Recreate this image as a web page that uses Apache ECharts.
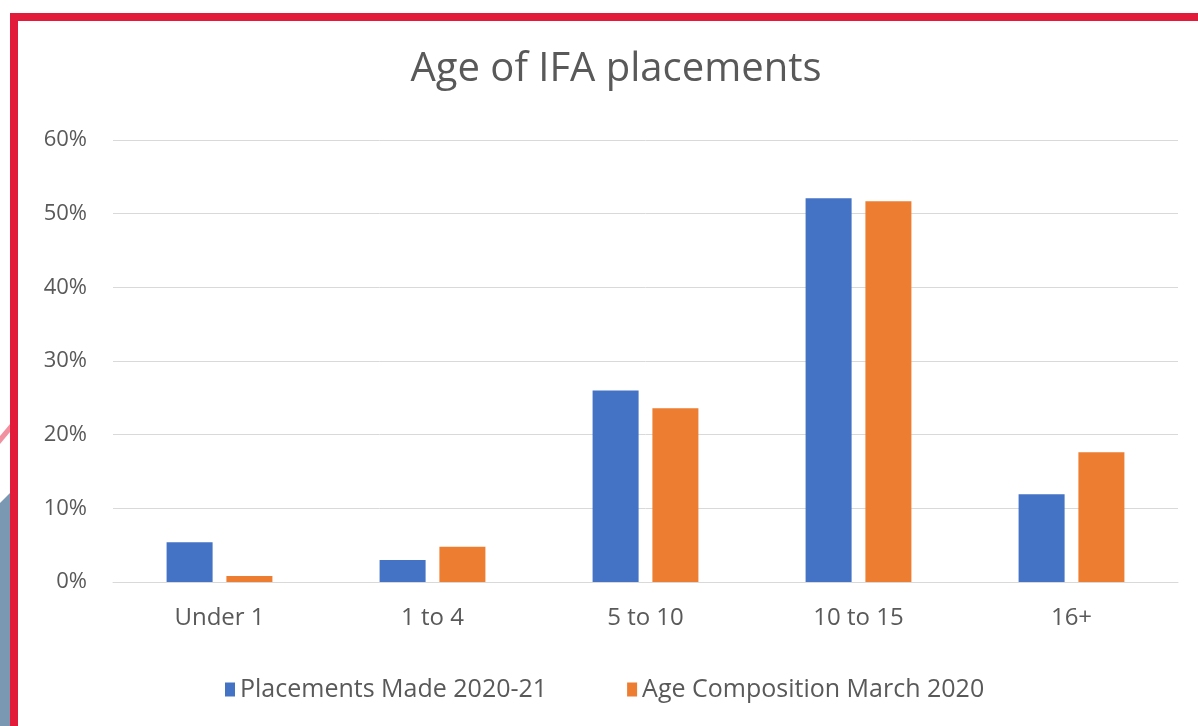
<!DOCTYPE html>
<html>
<head>
<meta charset="utf-8">
<script src="https://cdn.jsdelivr.net/npm/echarts@6/dist/echarts.min.js"></script>
<style>
  html, body { margin: 0; padding: 0; background: #fff; }
  #chart { width: 1198px; height: 726px; }
</style>
</head>
<body>
<div id="chart"></div>
<script>
const ageGroups = ['Under 1', '1 to 4', '5 to 10', '10 to 15', '16+'];
const placementsMade = [5.4, 3.0, 26.0, 52.1, 11.9];
const ageComposition = [0.8, 4.8, 23.6, 51.7, 17.6];
const yTicks = [0, 10, 20, 30, 40, 50, 60];

const textColor = '#595959';
const font = 'Open Sans';

const chart = echarts.init(document.getElementById('chart'));

const option = {
  backgroundColor: '#fff',
  animation: false,
  title: {
    text: 'Age of IFA placements',
    left: 611,
    textAlign: 'center',
    top: 45,
    textStyle: { fontFamily: font, fontSize: 40, fontWeight: 'normal', color: textColor }
  },
  legend: {
    data: ['Placements Made 2020-21', 'Age Composition March 2020'],
    left: 220,
    top: 672,
    itemWidth: 10,
    itemHeight: 14,
    itemGap: 80,
    icon: 'rect',
    textStyle: { fontFamily: font, fontSize: 25, color: textColor }
  },
  grid: { left: 113, right: 20, top: 140, bottom: 144 },
  xAxis: {
    type: 'category',
    data: ageGroups,
    axisLine: { lineStyle: { color: '#d9d9d9' } },
    axisTick: { show: false },
    axisLabel: { fontFamily: font, fontSize: 24, color: textColor, margin: 24 }
  },
  yAxis: {
    type: 'value',
    min: yTicks[0],
    max: yTicks[yTicks.length - 1],
    interval: 10,
    axisLine: { show: false },
    axisTick: { show: false },
    splitLine: { lineStyle: { color: '#d9d9d9', width: 1 } },
    axisLabel: { fontFamily: font, fontSize: 22, color: textColor, margin: 26, formatter: '{value}%' }
  },
  series: [
    {
      name: 'Placements Made 2020-21',
      type: 'bar',
      data: placementsMade,
      barWidth: '21.6%',
      barGap: '30%',
      itemStyle: { color: '#4472C4' }
    },
    {
      name: 'Age Composition March 2020',
      type: 'bar',
      data: ageComposition,
      barWidth: '21.6%',
      barGap: '30%',
      itemStyle: { color: '#ED7D31' }
    }
  ],
  graphic: [
    { type: 'polygon', shape: { points: [[0, 503], [10, 493], [10, 726], [0, 726]] }, style: { fill: '#7b98b3' } },
    { type: 'polygon', shape: { points: [[0, 436], [10, 424], [10, 432], [0, 444]] }, style: { fill: '#f1909f' } },
    { type: 'rect', shape: { x: 10, y: 13, width: 1188, height: 8 }, style: { fill: '#e31b3a' } },
    { type: 'rect', shape: { x: 10, y: 13, width: 8, height: 713 }, style: { fill: '#e31b3a' } }
  ]
};

chart.setOption(option);
</script>
</body>
</html>
